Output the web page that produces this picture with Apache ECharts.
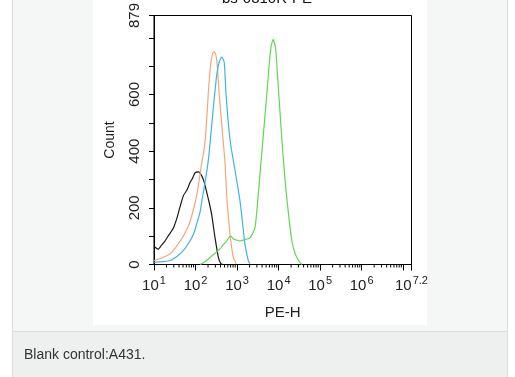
<!DOCTYPE html>
<html>
<head>
<meta charset="utf-8">
<script src="https://cdn.jsdelivr.net/npm/echarts@6.0.0/dist/echarts.min.js"></script>
<style>
  html, body { margin: 0; padding: 0; background: #fff; }
  #chart { width: 515px; height: 377px; }
</style>
</head>
<body>
<div id="chart"></div>
<script>
// x values are log10(PE-H), y values are event counts
const blankX  = [1.00, 1.05, 1.10, 1.18, 1.26, 1.33, 1.39, 1.47, 1.55, 1.63, 1.71, 1.79, 1.87, 1.93, 1.99, 2.07, 2.15, 2.21, 2.27, 2.33, 2.39, 2.47, 2.55, 2.61, 2.66];
const blankY  = [66, 58, 54, 68, 82, 98, 111, 130, 163, 205, 244, 262, 290, 305, 324, 327, 313, 290, 255, 218, 175, 94, 25, 3, 0];

const orangeX = [1.00, 1.20, 1.39, 1.51, 1.63, 1.75, 1.87, 1.95, 2.03, 2.09, 2.15, 2.21, 2.26, 2.31, 2.36, 2.41, 2.45, 2.49, 2.53, 2.57, 2.63, 2.67, 2.71, 2.75, 2.79, 2.83, 2.87, 2.91, 2.98];
const orangeY = [14, 24, 38, 58, 83, 112, 152, 195, 245, 300, 359, 410, 490, 611, 700, 745, 752, 740, 690, 600, 497, 428, 359, 245, 170, 107, 60, 25, 3];

const blueX   = [1.00, 1.20, 1.39, 1.55, 1.70, 1.83, 1.95, 2.03, 2.11, 2.17, 2.23, 2.31, 2.37, 2.43, 2.51, 2.57, 2.63, 2.69, 2.73, 2.79, 2.85, 2.93, 3.01, 3.07, 3.13, 3.19, 3.27, 3.31];
const blueY   = [8, 10, 14, 28, 48, 75, 107, 145, 186, 240, 290, 370, 460, 555, 669, 715, 732, 715, 611, 497, 420, 350, 280, 225, 150, 72, 14, 3];

const greenX  = [2.11, 2.23, 2.35, 2.47, 2.59, 2.67, 2.75, 2.80, 2.85, 2.91, 2.99, 3.07, 3.19, 3.31, 3.43, 3.50, 3.57, 3.64, 3.71, 3.77, 3.82, 3.87, 3.93, 4.00, 4.08, 4.16, 4.24, 4.32, 4.40, 4.48, 4.56];
const greenY  = [0, 10, 25, 40, 55, 70, 83, 95, 100, 90, 86, 83, 88, 94, 129, 230, 350, 470, 590, 700, 770, 795, 760, 611, 439, 290, 176, 83, 38, 14, 0];

const xMin = 1, xMax = 7.2;
const yMax = 879;
const yLabels = [0, 200, 400, 600, 879];

function pairs(xs, ys) {
  return xs.map((x, i) => [x, ys[i]]);
}

// log-scale minor tick positions (2..9 within each decade)
const minorTicks = [];
for (let k = 1; k < 8; k++) {
  for (let m = 2; m <= 9; m++) {
    const v = k + Math.log10(m);
    if (v < xMax) minorTicks.push([v, 0]);
  }
}

function curve(name, xs, ys, color) {
  return {
    name: name,
    type: 'line',
    data: pairs(xs, ys),
    showSymbol: false,
    smooth: 0.2,
    lineStyle: { color: color, width: 1.2 },
    silent: true,
    z: 3
  };
}

const chart = echarts.init(document.getElementById('chart'));

chart.setOption({
  animation: false,
  backgroundColor: '#ffffff',
  textStyle: { fontFamily: '"Liberation Sans", Arial, sans-serif' },
  graphic: [
    { type: 'rect', z: -10, shape: { x: 12.5, y: -2, width: 495, height: 334 },
      style: { fill: '#f5f6f6', stroke: '#dcdcdc', lineWidth: 1 } },
    { type: 'rect', z: -9, shape: { x: 12.5, y: 331.5, width: 495, height: 50 },
      style: { fill: '#eeefef', stroke: '#dcdcdc', lineWidth: 1 } },
    { type: 'rect', z: -8, shape: { x: 93, y: 0, width: 334, height: 325 },
      style: { fill: '#ffffff' } },
    { type: 'text', left: 24, top: 348,
      style: { text: 'Blank control:A431.', fill: '#333', font: '14px "Liberation Sans", Arial, sans-serif' } },
    { type: 'text', left: 222, top: -9,
      style: { text: 'bs-0310R-PE', fill: '#111', font: '15px "Liberation Sans", Arial, sans-serif' } }
  ],
  grid: {
    left: 154, top: 9.5, width: 257.5, height: 255,
    show: true, borderColor: '#000', borderWidth: 1, backgroundColor: 'transparent'
  },
  xAxis: {
    type: 'value',
    min: xMin, max: xMax, interval: 1,
    name: 'PE-H', nameLocation: 'middle', nameGap: 41,
    nameTextStyle: { color: '#222', fontSize: 15 },
    axisLine: { lineStyle: { color: '#000', width: 1 } },
    axisTick: { show: true, inside: false, length: 6, lineStyle: { color: '#000' } },
    splitLine: { show: false },
    axisLabel: {
      margin: 11, color: '#222', showMaxLabel: true,
      formatter: function (v) {
        if (Math.abs(v - 7) < 1e-6) return '';
        const e = Math.abs(v - Math.round(v)) < 1e-6 ? String(Math.round(v)) : String(v);
        return '{b|10}{s|' + e + '}';
      },
      rich: {
        b: { fontSize: 15, color: '#222' },
        s: { fontSize: 11, color: '#222', padding: [0, 0, 9, 1] }
      }
    }
  },
  yAxis: {
    type: 'value',
    min: 0, max: yMax, interval: 100,
    name: 'Count', nameLocation: 'middle', nameGap: 37,
    nameTextStyle: { color: '#222', fontSize: 14 },
    axisLine: { show: true, lineStyle: { color: '#000', width: 1 } },
    axisTick: { show: true, inside: false, length: 5, lineStyle: { color: '#000' } },
    splitLine: { show: false },
    axisLabel: {
      rotate: 90, margin: 12, color: '#222', fontSize: 15, showMaxLabel: true,
      formatter: function (v) { return yLabels.indexOf(v) >= 0 ? String(v) : ''; }
    }
  },
  series: [
    curve('blank', blankX, blankY, '#1a1a1a'),
    curve('isotype', orangeX, orangeY, '#f2a878'),
    curve('secondary', blueX, blueY, '#3db5e3'),
    curve('antibody', greenX, greenY, '#5fd94f'),
    {
      type: 'custom',
      silent: true,
      clip: false,
      data: minorTicks,
      renderItem: function (params, api) {
        const p = api.coord([api.value(0), 0]);
        return {
          type: 'line',
          shape: { x1: p[0], y1: p[1], x2: p[0], y2: p[1] + 3 },
          style: { stroke: '#000', lineWidth: 1 }
        };
      },
      z: 4
    }
  ]
});
</script>
</body>
</html>
